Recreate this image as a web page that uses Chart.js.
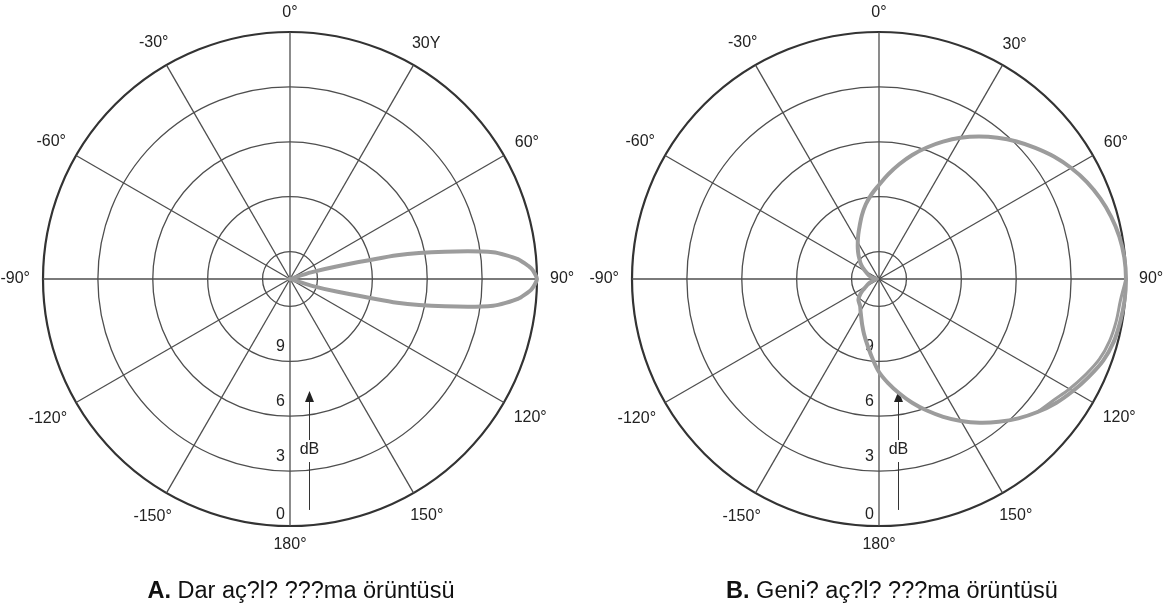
<!DOCTYPE html>
<html>
<head>
<meta charset="utf-8">
<script src="https://cdn.jsdelivr.net/npm/chart.js@4.4.1/dist/chart.umd.min.js"></script>
<style>
html,body{margin:0;padding:0;background:#fff;width:1174px;height:607px;overflow:hidden;}
canvas{position:absolute;top:0;}
#cA{left:0;}
#cB{left:587px;}
.cap{position:absolute;top:576px;line-height:28px;font-family:"Liberation Sans",Arial,sans-serif;font-size:23.5px;color:#111;white-space:nowrap;transform:translateX(-50%);}
</style>
</head>
<body>
<canvas id="cA" width="587" height="607"></canvas>
<canvas id="cB" width="587" height="607"></canvas>
<div class="cap" style="left:301px;"><b>A.</b> Dar aç?l? ???ma örüntüsü</div>
<div class="cap" style="left:892px;"><b>B.</b> Geni? aç?l? ???ma örüntüsü</div>
<script>
// ---- data ----
const scaleMax = 13.5;                 // dB value at the centre of the plot
const ringTicks = [13.5, 12, 9, 6, 3, 0];
const dbLabels = [0, 3, 6, 9];
const angleTextA = ['0°','30Υ','60°','90°','120°','150°','180°','-150°','-120°','-90°','-60°','-30°'];
const angleTextB = ['0°','30°','60°','90°','120°','150°','180°','-150°','-120°','-90°','-60°','-30°'];

// A: narrow pattern (2.5° sampling); outside the lobe the curve sits at the centre
const stepA = 2.5;
const lobeAnglesA = [70, 72.5, 75, 77.5, 80, 82.5, 85, 87.5, 90, 92.5, 95, 97.5, 100, 102.5, 105, 107.5, 110];
const lobeDbA     = [13.5, 12.3, 10.8, 7.5, 4.9, 2.3, 1.0, 0.3, 0, 0.3, 1.0, 2.3, 4.9, 7.5, 10.8, 12.3, 13.5];

// B: wide pattern (5° sampling, angles 0..355)
const stepB = 5;
const wideDbB = [
  8.36, 7.76, 7.13, 6.48, 5.85, 5.22, 4.59, 3.99, 3.42, 2.87, 2.35, 1.83,
  1.37, 0.96, 0.63, 0.36, 0.16, 0.04, 0.00, 0.03, 0.11, 0.22, 0.46, 0.85,
  1.26, 1.69, 2.19, 2.73, 3.31, 3.91, 4.54, 5.19, 5.85, 6.50, 7.16, 7.79,
  8.42, 9.18, 9.84, 10.36, 10.82, 11.20, 11.48, 11.70, 11.81, 11.91, 12.13, 12.41,
  12.68, 12.84, 13.01, 13.17, 13.28, 13.34, 13.39, 13.34, 13.23, 13.06, 12.90, 12.79,
  12.63, 12.41, 12.19, 12.00, 11.75, 11.48, 11.18, 10.82, 10.41, 9.89, 9.35, 8.85
];
// B: second (inner) stroke of the retraced part at lower right
const traceAnglesB = [90, 95, 100, 105, 110, 115, 120, 125, 130];
const traceDbB     = [0.00, 0.25, 0.33, 0.45, 0.68, 1.07, 1.48, 1.90, 2.19];

// ---- build ----
const anglesA = [];
for (let a = 0; a < 360; a += stepA) anglesA.push(a);
const anglesB = [];
for (let a = 0; a < 360; a += stepB) anglesB.push(a);
const dataA = anglesA.map(a => { const k = lobeAnglesA.indexOf(a); return k >= 0 ? lobeDbA[k] : scaleMax; });
const traceB = anglesB.map(a => { const k = traceAnglesB.indexOf(a); return k >= 0 ? traceDbB[k] : null; });

const FONT = '"Liberation Sans", Arial, sans-serif';

const decor = {
  id: 'decor',
  beforeDatasetsDraw(chart) {
    const s = chart.scales.r, ctx = chart.ctx, xc = s.xCenter, yc = s.yCenter, R = s.drawingArea;
    ctx.save();
    ctx.fillStyle = '#222';
    ctx.font = '16px ' + FONT;
    ctx.textAlign = 'right';
    ctx.textBaseline = 'middle';
    dbLabels.forEach(v => {
      ctx.fillText(String(v), xc - 5, yc + s.getDistanceFromCenterForValue(v) - (v === 0 ? 11 : 15));
    });
    const ax = Math.round(xc + 19) + 0.5;
    ctx.strokeStyle = '#333';
    ctx.lineWidth = 1;
    ctx.beginPath();
    ctx.moveTo(ax, yc + R * 0.935); ctx.lineTo(ax, yc + R * 0.741);
    ctx.moveTo(ax, yc + R * 0.652); ctx.lineTo(ax, yc + R * 0.498);
    ctx.stroke();
    ctx.beginPath();
    ctx.moveTo(ax, yc + R * 0.453);
    ctx.lineTo(ax - 4.5, yc + R * 0.498);
    ctx.lineTo(ax + 4.5, yc + R * 0.498);
    ctx.closePath();
    ctx.fill();
    ctx.textAlign = 'center';
    ctx.fillText('dB', ax, yc + R * 0.692);
    ctx.restore();
  },
  afterDraw(chart, args, o) {
    const s = chart.scales.r, ctx = chart.ctx, R = s.drawingArea;
    ctx.save();
    ctx.fillStyle = '#222';
    ctx.font = '16px ' + FONT;
    ctx.textAlign = 'center';
    ctx.textBaseline = 'middle';
    o.texts.forEach((t, k) => {
      const idx = k * o.every;
      const a = s.getIndexAngle(idx);
      const w = ctx.measureText(t).width, h = 12;
      const d = R + 13 + Math.abs(Math.sin(a)) * w / 2 + Math.abs(Math.cos(a)) * h / 2;
      const p = s.getPointPosition(idx, d);
      ctx.fillText(t, p.x, p.y);
    });
    ctx.restore();
  }
};

function makeChart(id, labels, datasets, angleTexts, pad) {
  const every = labels.length / 12;
  return new Chart(document.getElementById(id), {
    type: 'radar',
    data: {
      labels: labels,
      datasets: datasets.map(d => ({
        data: d.data,
        borderColor: '#9c9c9c',
        borderWidth: d.width,
        backgroundColor: 'rgba(0,0,0,0)',
        fill: false,
        pointRadius: 0,
        pointHitRadius: 0,
        spanGaps: false,
        tension: d.tension
      }))
    },
    options: {
      responsive: false,
      animation: false,
      events: [],
      layout: { padding: pad },
      plugins: {
        legend: { display: false },
        tooltip: { enabled: false },
        decor: { texts: angleTexts, every: every }
      },
      scales: {
        r: {
          min: 0,
          max: scaleMax,
          reverse: true,
          afterBuildTicks: sc => { sc.ticks = ringTicks.map(v => ({ value: v })); },
          ticks: { display: false },
          pointLabels: { display: false },
          grid: {
            circular: true,
            color: c => (c.tick && c.tick.value === 0) ? '#333' : '#4e4e4e',
            lineWidth: c => (c.tick && c.tick.value === 0) ? 2.2 : 1.3
          },
          angleLines: {
            color: '#4e4e4e',
            lineWidth: c => (labels[c.index] % 30 === 0) ? 1.3 : 0
          }
        }
      }
    },
    plugins: [decor]
  });
}

makeChart('cA', anglesA, [{ data: dataA, width: 4, tension: 0.2 }], angleTextA,
  { left: 43, right: 50, top: 32, bottom: 81 });
makeChart('cB', anglesB, [{ data: wideDbB, width: 4, tension: 0.35 }, { data: traceB, width: 3, tension: 0.35 }], angleTextB,
  { left: 45, right: 48, top: 32, bottom: 81 });
</script>
</body>
</html>
